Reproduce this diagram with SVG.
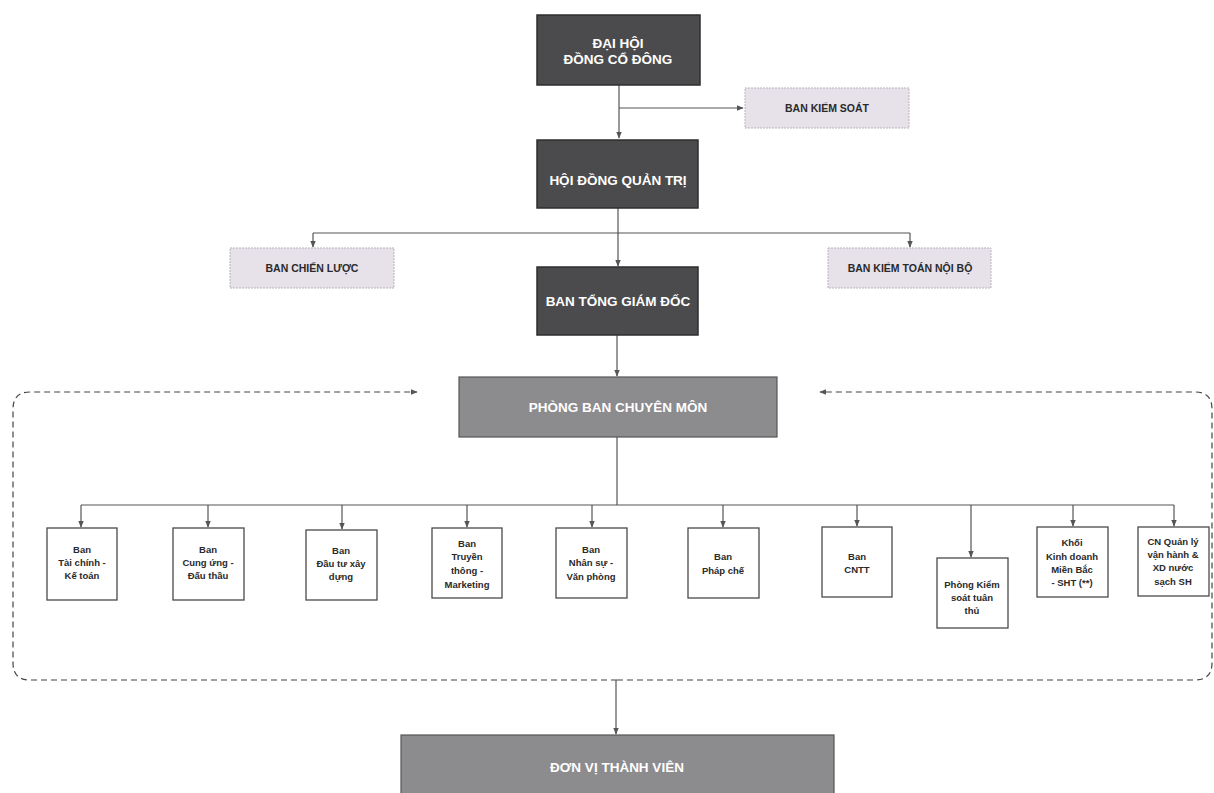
<svg xmlns="http://www.w3.org/2000/svg" width="1214" height="793" viewBox="0 0 1214 793">
<style>
.dark{fill:#4b4b4d;stroke:#2e2e2e;stroke-width:1.5}
.mid{fill:#8c8b8e;stroke:#555;stroke-width:1.2}
.light{fill:#e7e1ea;stroke:#b9b3bd;stroke-width:1;stroke-dasharray:2 1}
.child{fill:#ffffff;stroke:#4a4a4a;stroke-width:1.3}
.tw{font-family:"Liberation Sans",Arial,sans-serif;font-weight:bold;font-size:13.5px;fill:#ffffff;text-anchor:middle}
.tl{font-family:"Liberation Sans",Arial,sans-serif;font-weight:bold;font-size:10.5px;fill:#2a2a2a;text-anchor:middle}
.tc{font-family:"Liberation Sans",Arial,sans-serif;font-weight:bold;font-size:9.5px;fill:#2a2a2a;text-anchor:middle}
.ln{fill:none;stroke:#555;stroke-width:1.2}
.dash{fill:none;stroke:#444;stroke-width:1.2;stroke-dasharray:6 4}
</style>
<defs>
<marker id="ah" viewBox="0 0 10 10" refX="9" refY="5" markerWidth="7" markerHeight="7" orient="auto" markerUnits="userSpaceOnUse">
<path d="M0,1 L10,5 L0,9 Z" fill="#555"/>
</marker>
</defs>
<rect width="1214" height="793" fill="#ffffff"/>

<g id="connectors">
<path class="ln" d="M619 85 V138" marker-end="url(#ah)"/>
<path class="ln" d="M619 108 H743" marker-end="url(#ah)"/>
<path class="ln" d="M618 208 V266" marker-end="url(#ah)"/>
<path class="ln" d="M313 233 H910"/>
<path class="ln" d="M313 233 V247" marker-end="url(#ah)"/>
<path class="ln" d="M910 233 V247" marker-end="url(#ah)"/>
<path class="ln" d="M617 335 V376" marker-end="url(#ah)"/>
<path class="ln" d="M617 437 V505"/>
<path class="ln" d="M81 505 H1174"/>
<path class="ln" d="M81 505 V527" marker-end="url(#ah)"/>
<path class="ln" d="M208 505 V527" marker-end="url(#ah)"/>
<path class="ln" d="M342 505 V529" marker-end="url(#ah)"/>
<path class="ln" d="M467 505 V527" marker-end="url(#ah)"/>
<path class="ln" d="M592 505 V527" marker-end="url(#ah)"/>
<path class="ln" d="M723 505 V527" marker-end="url(#ah)"/>
<path class="ln" d="M857 505 V526" marker-end="url(#ah)"/>
<path class="ln" d="M971 505 V557" marker-end="url(#ah)"/>
<path class="ln" d="M1073 505 V526" marker-end="url(#ah)"/>
<path class="ln" d="M1174 505 V526" marker-end="url(#ah)"/>
<path class="dash" d="M617 680 H30 Q13 680 13 663 V409 Q13 392 30 392 H417" marker-end="url(#ah)"/>
<path class="dash" d="M617 680 H1195 Q1212 680 1212 663 V409 Q1212 392 1195 392 H820" marker-end="url(#ah)"/>
<path class="ln" d="M616 680 V734" marker-end="url(#ah)"/>
</g>

<g id="dhdcd">
<rect class="dark" x="537" y="15" width="163" height="70"/>
<text class="tw" x="618" y="48">ĐẠI HỘI</text>
<text class="tw" x="618" y="64">ĐỒNG CỔ ĐÔNG</text>
</g>
<g id="bks">
<rect class="light" x="745" y="88" width="164" height="40"/>
<text class="tl" x="827" y="112">BAN KIỂM SOÁT</text>
</g>
<g id="hdqt">
<rect class="dark" x="537" y="140" width="161" height="68"/>
<text class="tw" x="618" y="185">HỘI ĐỒNG QUẢN TRỊ</text>
</g>
<g id="bcl">
<rect class="light" x="230" y="248" width="164" height="40"/>
<text class="tl" x="312" y="272">BAN CHIẾN LƯỢC</text>
</g>
<g id="bktnb">
<rect class="light" x="828" y="248" width="163" height="40"/>
<text class="tl" x="910" y="272">BAN KIỂM TOÁN NỘI BỘ</text>
</g>
<g id="btgd">
<rect class="dark" x="537" y="267" width="161" height="68"/>
<text class="tw" x="618" y="306">BAN TỔNG GIÁM ĐỐC</text>
</g>
<g id="pbcm">
<rect class="mid" x="459" y="377" width="318" height="60"/>
<text class="tw" x="618" y="412">PHÒNG BAN CHUYÊN MÔN</text>
</g>

<g id="c1">
<rect class="child" x="47" y="528" width="70" height="72"/>
<text class="tc" x="82" y="553">Ban</text>
<text class="tc" x="82" y="566">Tài chính -</text>
<text class="tc" x="82" y="579">Kế toán</text>
</g>
<g id="c2">
<rect class="child" x="173" y="528" width="71" height="72"/>
<text class="tc" x="208" y="553">Ban</text>
<text class="tc" x="208" y="566">Cung ứng -</text>
<text class="tc" x="208" y="579">Đấu thầu</text>
</g>
<g id="c3">
<rect class="child" x="306" y="530" width="71" height="70"/>
<text class="tc" x="341" y="554">Ban</text>
<text class="tc" x="341" y="567">Đầu tư xây</text>
<text class="tc" x="341" y="580">dựng</text>
</g>
<g id="c4">
<rect class="child" x="432" y="528" width="70" height="70"/>
<text class="tc" x="467" y="547">Ban</text>
<text class="tc" x="467" y="560">Truyền</text>
<text class="tc" x="467" y="574">thông -</text>
<text class="tc" x="467" y="588">Marketing</text>
</g>
<g id="c5">
<rect class="child" x="556" y="528" width="71" height="70"/>
<text class="tc" x="591" y="553">Ban</text>
<text class="tc" x="591" y="566">Nhân sự -</text>
<text class="tc" x="591" y="580">Văn phòng</text>
</g>
<g id="c6">
<rect class="child" x="688" y="528" width="71" height="70"/>
<text class="tc" x="723" y="560">Ban</text>
<text class="tc" x="723" y="574">Pháp chế</text>
</g>
<g id="c7">
<rect class="child" x="822" y="527" width="70" height="70"/>
<text class="tc" x="857" y="560">Ban</text>
<text class="tc" x="857" y="573">CNTT</text>
</g>
<g id="c8">
<rect class="child" x="937" y="558" width="71" height="70"/>
<text class="tc" x="972" y="588">Phòng Kiểm</text>
<text class="tc" x="972" y="601">soát tuân</text>
<text class="tc" x="972" y="614">thủ</text>
</g>
<g id="c9">
<rect class="child" x="1037" y="527" width="71" height="70"/>
<text class="tc" x="1072" y="546">Khối</text>
<text class="tc" x="1072" y="560">Kinh doanh</text>
<text class="tc" x="1072" y="573">Miền Bắc</text>
<text class="tc" x="1072" y="586">- SHT (**)</text>
</g>
<g id="c10">
<rect class="child" x="1138" y="527" width="71" height="69"/>
<text class="tc" x="1173" y="545">CN Quản lý</text>
<text class="tc" x="1173" y="558">vận hành &amp;</text>
<text class="tc" x="1173" y="571">XD nước</text>
<text class="tc" x="1173" y="585">sạch SH</text>
</g>

<g id="dvtv">
<rect class="mid" x="401" y="735" width="433" height="66"/>
<text class="tw" x="617" y="772">ĐƠN VỊ THÀNH VIÊN</text>
</g>
</svg>
